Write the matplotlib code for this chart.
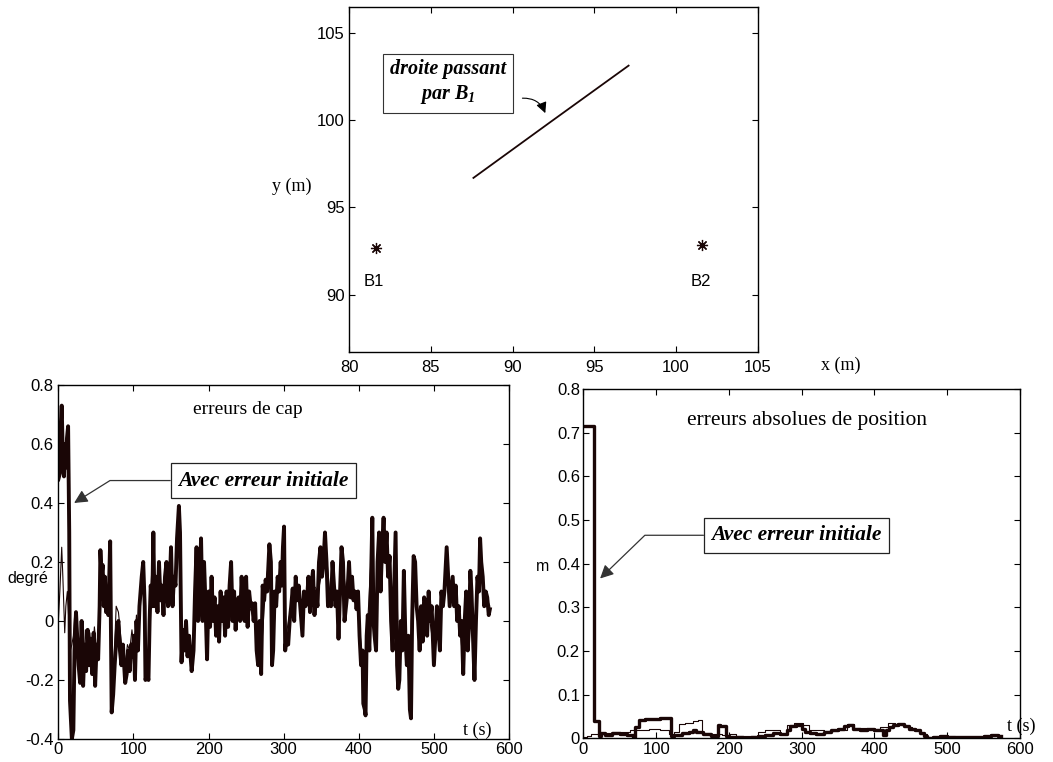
import matplotlib
matplotlib.use('Agg')
import matplotlib.pyplot as plt

plt.rcParams['font.family'] = 'Liberation Sans'
plt.rcParams['mathtext.fontset'] = 'custom'
plt.rcParams['mathtext.rm'] = 'Liberation Serif:bold:italic'
plt.rcParams['mathtext.bf'] = 'Liberation Serif:bold:italic'
plt.rcParams['mathtext.it'] = 'Liberation Serif:bold:italic'

SERIF = 'Liberation Serif'
INK = '#1a0606'

# --- top panel: beacons and the line through B1
beacon_x = [81.63, 101.61]
beacon_y = [92.67, 92.83]
beacon_names = ['B1', 'B2']
line_x = [87.6, 92.3, 97.1]
line_y = [96.7, 99.9, 103.15]

# --- heading error (deg), with initial error (thick)
cap_t = [0, 2, 3, 4.5, 6, 7.5, 9, 10, 11.5, 13,
         14.5, 15.5, 17, 18, 20, 21.5, 23.5, 25, 27, 29,
         31, 33, 35, 37, 39, 41, 43, 45, 47, 49,
         51, 53, 55, 56, 57.5, 59, 60.5, 62, 63.5, 65,
         66.5, 69, 71, 73, 75, 78, 80, 82, 84, 86,
         89, 91, 93, 95, 97, 99, 100.5, 102, 104, 106,
         108, 111, 113, 115, 116, 118, 120, 121.5, 123, 125,
         126.5, 128, 130, 132, 134, 136, 138, 140, 142, 144,
         146, 148, 150, 152, 154, 156, 158, 160.5, 162, 164,
         166, 168, 170, 172, 174, 177.5, 180, 182, 184, 186,
         188, 190, 192, 194, 196, 198, 200, 202, 204, 206,
         208, 210, 212, 214, 216, 218, 220, 222, 224, 226,
         228, 230, 232, 234, 236, 238, 240, 242, 244, 246,
         248, 250, 252, 254, 256, 258, 260, 262, 264, 266,
         268, 270, 272, 274, 276, 278, 281, 283, 284.5, 286,
         288, 290, 292, 294, 296, 297.5, 299, 300.5, 302, 304,
         306, 308, 310, 312, 314, 316, 318, 320, 322, 325,
         327, 329, 331, 333, 335, 337, 339, 341, 343, 345,
         347, 349, 351, 353, 355, 357, 359, 361, 363, 365,
         367, 369, 371, 373, 375, 377, 379, 381, 383, 385,
         387, 389, 391, 393, 395, 397, 399, 401, 403, 405,
         406, 408, 409, 410.5, 412, 414, 416, 418, 419.5, 421,
         423, 425, 427, 429, 431, 433, 435, 437, 439, 441,
         443, 445, 447, 449, 451, 452.5, 454, 456, 458, 460,
         462, 464, 466, 468, 469.5, 471, 473, 475, 477, 479,
         481, 483, 485, 487, 489, 491, 493, 495, 497, 500,
         502, 504, 506, 508, 510, 512, 514, 517, 519, 521,
         523, 525, 527, 529, 531, 533, 535, 537, 539, 541,
         543, 545, 547, 548.5, 550, 552, 554, 556, 558, 560,
         561.5, 563, 565, 567, 569, 571, 573, 574.5]
cap_init = [0.48, 0.50, 0.65, 0.73, 0.55, 0.49, 0.60, 0.52, 0.62, 0.66,
            0.30, -0.27, -0.35, -0.40, -0.37, -0.10, 0.03, -0.05, -0.15, -0.21,
            0.0, -0.22, -0.08, -0.17, -0.03, -0.15, -0.06, -0.18, -0.04, -0.22,
            -0.08, -0.13, 0.05, 0.24, 0.15, 0.19, 0.05, 0.15, 0.03, 0.08,
            0.02, 0.27, -0.31, -0.25, -0.15, -0.03, 0.0, -0.10, -0.15, -0.08,
            -0.21, -0.18, -0.10, -0.17, -0.08, -0.12, -0.05, -0.20, 0.0, -0.10,
            0.05, 0.15, 0.20, 0.05, -0.20, -0.18, -0.20, 0.0, 0.12, 0.05,
            0.30, 0.05, 0.15, 0.03, 0.20, 0.07, 0.12, 0.02, 0.15, 0.20,
            0.05, 0.10, 0.25, 0.05, 0.15, 0.12, 0.28, 0.39, 0.30, -0.14,
            -0.03, -0.10, 0.0, -0.12, -0.05, -0.17, -0.10, 0.10, 0.25, 0.0,
            0.10, 0.28, 0.0, 0.20, 0.05, -0.13, 0.10, -0.02, 0.15, 0.0,
            0.08, -0.05, 0.05, -0.07, 0.10, 0.0, 0.08, -0.05, 0.10, -0.02,
            0.12, 0.20, 0.0, 0.10, -0.03, 0.05, 0.08, 0.0, 0.15, 0.03,
            0.0, 0.15, -0.02, 0.10, 0.05, 0.06, 0.0, 0.06, -0.10, -0.15,
            0.0, -0.18, 0.12, 0.07, 0.14, 0.10, 0.26, 0.20, -0.15, -0.10,
            0.10, 0.05, 0.15, 0.10, 0.20, 0.12, 0.25, 0.32, -0.10, -0.05,
            -0.08, 0.0, 0.05, 0.11, 0.0, 0.15, 0.07, 0.12, 0.05, -0.05,
            0.10, 0.05, 0.07, 0.15, 0.03, 0.12, 0.17, 0.02, 0.10, 0.05,
            0.20, 0.25, 0.15, 0.20, 0.30, 0.20, 0.05, 0.07, 0.05, 0.20,
            0.12, 0.05, 0.10, -0.06, 0.10, 0.25, 0.20, 0.0, 0.05, 0.10,
            0.20, 0.08, 0.15, 0.07, 0.10, 0.04, 0.10, -0.05, -0.15, -0.10,
            -0.28, -0.30, -0.32, -0.05, 0.02, -0.10, 0.10, 0.35, 0.0, -0.05,
            -0.10, 0.20, 0.30, 0.10, 0.25, 0.35, 0.20, 0.30, 0.15, 0.22,
            0.0, -0.10, 0.10, 0.30, -0.15, -0.23, -0.20, 0.0, -0.10, 0.17,
            -0.05, -0.15, -0.05, -0.30, -0.33, 0.0, 0.22, 0.20, 0.05, 0.0,
            -0.10, 0.05, -0.07, 0.08, 0.06, -0.05, 0.10, 0.0, 0.05, -0.15,
            -0.05, 0.05, -0.03, -0.10, 0.10, 0.05, 0.10, 0.25, 0.15, 0.05,
            0.10, 0.15, 0.05, 0.12, 0.0, 0.05, -0.05, 0.0, -0.18, 0.0,
            0.10, -0.10, 0.0, 0.17, 0.10, -0.05, -0.20, 0.0, 0.15, 0.10,
            0.28, 0.20, 0.15, 0.05, 0.10, 0.08, 0.02, 0.04]

# heading error without initial error (thin)
cap_t2 = [0, 2, 4.5, 6, 8.5, 10, 12, 14, 16, 18,
          20, 22, 24, 27, 30, 33, 36, 39, 42, 45,
          48, 51, 54, 56, 59, 62, 65, 69, 71, 74,
          77, 80, 83, 86, 89, 92, 95, 98, 101, 104,
          107, 110, 113, 116, 119, 122, 126, 129, 132, 135,
          138, 141, 144, 147, 150, 153, 156, 160, 163, 166,
          170, 174, 178, 182, 185, 190, 195, 198, 204, 210,
          216, 222, 228, 234, 240, 246, 252, 258, 264, 270,
          276, 281, 285, 290, 296, 300, 303, 310, 316, 322,
          328, 334, 340, 346, 352, 356, 362, 368, 374, 378,
          384, 390, 396, 402, 408, 412, 418, 422, 428, 434,
          440, 446, 450, 453, 458, 462, 469, 473, 480, 486,
          492, 500, 506, 512, 517, 522, 528, 534, 539, 544,
          548, 554, 558, 562, 566, 570, 574.5]
cap_noinit = [0.0, 0.10, 0.25, 0.15, -0.04, 0.05, 0.10, 0.0, -0.10, -0.08,
              -0.05, 0.03, -0.05, -0.12, -0.05, -0.18, -0.03, -0.12, -0.04, -0.15,
              -0.02, -0.10, -0.05, 0.22, 0.17, 0.12, 0.05, 0.22, -0.25, -0.15,
              0.05, 0.03, -0.05, -0.12, -0.15, -0.08, -0.10, -0.03, -0.10, 0.02,
              -0.05, 0.12, 0.18, -0.15, -0.15, 0.05, 0.25, 0.10, 0.08, 0.15,
              0.10, 0.05, 0.18, 0.08, 0.20, 0.10, 0.15, 0.32, 0.0, -0.05,
              -0.02, -0.08, -0.12, 0.05, 0.20, 0.22, 0.10, -0.08, 0.12, 0.0,
              0.08, 0.0, 0.10, 0.08, 0.06, 0.05, 0.02, 0.05, -0.05, -0.12,
              0.12, 0.22, -0.10, 0.08, 0.15, 0.28, -0.05, 0.05, 0.12, 0.07,
              0.08, 0.10, 0.12, 0.10, 0.18, 0.25, 0.08, 0.10, 0.0, 0.20,
              0.08, 0.12, 0.08, -0.05, -0.25, 0.0, 0.30, -0.05, 0.25, 0.30,
              0.18, 0.0, 0.25, -0.18, -0.05, 0.0, -0.28, 0.18, 0.0, 0.0,
              0.05, -0.10, 0.0, 0.06, 0.20, 0.08, 0.10, 0.0, -0.15, 0.0,
              0.15, -0.15, 0.12, 0.25, 0.12, 0.08, 0.05]

# --- absolute position error (m)
pos_t = [0, 14.5, 21, 24, 30, 40, 50, 60, 68, 71,
         76, 85, 95, 105, 112, 121, 125, 135, 145, 150,
         155, 165, 175, 185, 188, 196, 200, 210, 220, 230,
         240, 250, 260, 270, 280, 284, 292, 300, 305, 312,
         320, 330, 340, 350, 358, 364, 370, 380, 390, 400,
         410, 412, 416, 420, 426, 432, 440, 448, 456, 463,
         468, 472, 480, 490, 500, 510, 520, 530, 540, 550,
         560, 565, 570, 574]
pos_init = [0.715, 0.04, 0.005, 0.012, 0.008, 0.012, 0.01, 0.008, 0.004, 0.025,
            0.042, 0.044, 0.045, 0.047, 0.046, 0.005, 0.008, 0.012, 0.015, 0.02,
            0.015, 0.01, 0.005, 0.03, 0.028, 0.005, 0.003, 0.002, 0.0, 0.003,
            0.006, 0.008, 0.012, 0.01, 0.018, 0.028, 0.03, 0.022, 0.015, 0.012,
            0.01, 0.015, 0.018, 0.022, 0.028, 0.03, 0.022, 0.02, 0.021, 0.019,
            0.02, 0.008, 0.02, 0.025, 0.03, 0.033, 0.028, 0.022, 0.018, 0.012,
            0.006, 0.0, 0.004, 0.006, 0.003, 0.002, 0.003, 0.004, 0.003, 0.005,
            0.007, 0.008, 0.006, 0.005]
pos_t2 = [0, 5, 10, 25, 40, 55, 64, 75, 90, 105,
          118, 125, 132, 140, 150, 158, 163, 175, 190, 200,
          210, 225, 240, 250, 261, 270, 280, 290, 302, 310,
          330, 350, 362, 372, 390, 408, 418, 428, 440, 452,
          463, 472, 490, 510, 530, 550, 565, 574]
pos_noinit = [0.002, 0.006, 0.01, 0.012, 0.014, 0.015, 0.018, 0.02, 0.022, 0.02,
              0.01, 0.015, 0.033, 0.035, 0.04, 0.043, 0.012, 0.01, 0.008, 0.01,
              0.006, 0.005, 0.015, 0.018, 0.02, 0.01, 0.03, 0.036, 0.03, 0.018,
              0.016, 0.02, 0.033, 0.024, 0.022, 0.025, 0.035, 0.032, 0.026, 0.02,
              0.01, 0.002, 0.005, 0.004, 0.004, 0.006, 0.008, 0.006]


def style_axes(ax, xpad, ypad):
    ax.tick_params(direction='in', top=True, right=True, length=4,
                   width=0.8, labelsize=12, colors='black')
    ax.tick_params(axis='x', pad=xpad)
    ax.tick_params(axis='y', pad=ypad)
    for s in ax.spines.values():
        s.set_linewidth(1.0)
        s.set_color('black')


fig = plt.figure(figsize=(10.53, 7.62), dpi=100)

# top panel
ax0 = fig.add_axes([0.3317, 0.5381, 0.3878, 0.4523])
ax0.plot(line_x, line_y, color=INK, lw=1.3)
ax0.plot(beacon_x, beacon_y, linestyle='none', marker=(8, 2, 0),
         markersize=8, markeredgewidth=0.9, color=INK)
for bx, name in zip(beacon_x, beacon_names):
    ax0.text(bx - 0.1, 90.76, name, ha='center', va='center', fontsize=12)
ax0.set_xlim(80, 105)
ax0.set_ylim(86.7, 106.5)
ax0.set_xticks(range(80, 106, 5))
ax0.set_yticks(range(90, 106, 5))
style_axes(ax0, 6, 3.5)
ax0.text(86.04, 102.18, 'droite passant\npar $B_1$', ha='center', va='center',
         family=SERIF, style='italic', weight='bold', fontsize=14.5,
         linespacing=1.3,
         bbox=dict(boxstyle='square,pad=0.35', fc='white', ec='#333333', lw=0.8))
ax0.annotate('', xy=(92.0, 100.42), xytext=(90.6, 101.28),
             arrowprops=dict(arrowstyle='-|>', color='black', lw=0.8,
                             mutation_scale=16, shrinkA=0, shrinkB=0,
                             connectionstyle='arc3,rad=-0.35'))
fig.text(0.277, 0.755, 'y (m)', family=SERIF, fontsize=13, ha='center', va='center')
fig.text(0.798, 0.52, 'x (m)', family=SERIF, fontsize=13, ha='center', va='center')

# bottom left panel
ax1 = fig.add_axes([0.0554, 0.0302, 0.428, 0.4646])
ax1.plot(cap_t2, cap_noinit, color=INK, lw=0.8)
ax1.plot(cap_t, cap_init, color=INK, lw=2.8)
ax1.set_xlim(0, 600)
ax1.set_ylim(-0.4, 0.8)
ax1.set_xticks(range(0, 601, 100))
ax1.set_yticks([-0.4, -0.2, 0, 0.2, 0.4, 0.6, 0.8])
ax1.set_yticklabels(['-0.4', '-0.2', '0', '0.2', '0.4', '0.6', '0.8'])
style_axes(ax1, 2, 3.5)
ax1.text(252, 0.718, 'erreurs de cap', family=SERIF, fontsize=14,
         ha='center', va='center')
ax1.annotate('Avec erreur initiale', xy=(21, 0.40), xytext=(273, 0.476),
             ha='center', va='center', family=SERIF, style='italic',
             weight='bold', fontsize=15.5,
             bbox=dict(boxstyle='square,pad=0.35', fc='white', ec='#222222', lw=0.9),
             arrowprops=dict(arrowstyle='-|>', color='#333333', lw=0.9,
                             mutation_scale=20, shrinkA=0, shrinkB=0,
                             connectionstyle='angle,angleA=0,angleB=32,rad=0'))
ax1.text(558, -0.37, 't (s)', family=SERIF, fontsize=13, ha='center', va='center')
fig.text(28.3 / 1053, 1 - 578 / 762, 'degré', fontsize=11.5, ha='center', va='center')

# bottom right panel
ax2 = fig.add_axes([0.554, 0.0311, 0.4147, 0.4584])
ax2.plot(pos_t, pos_init, color=INK, lw=2.4, drawstyle='steps-post')
ax2.plot(pos_t2, pos_noinit, color=INK, lw=0.8, drawstyle='steps-post')
ax2.set_xlim(0, 600)
ax2.set_ylim(0, 0.8)
ax2.set_xticks(range(0, 601, 100))
ax2.set_yticks([0, 0.1, 0.2, 0.3, 0.4, 0.5, 0.6, 0.7, 0.8])
ax2.set_yticklabels(['0', '0.1', '0.2', '0.3', '0.4', '0.5', '0.6', '0.7', '0.8'])
style_axes(ax2, 2.5, 2.5)
ax2.text(307, 0.729, 'erreurs absolues de position', family=SERIF,
         fontsize=15.5, ha='center', va='center')
ax2.annotate('Avec erreur initiale', xy=(23, 0.366), xytext=(293, 0.465),
             ha='center', va='center', family=SERIF, style='italic',
             weight='bold', fontsize=15.5,
             bbox=dict(boxstyle='square,pad=0.35', fc='white', ec='#222222', lw=0.9),
             arrowprops=dict(arrowstyle='-|>', color='#333333', lw=0.9,
                             mutation_scale=20, shrinkA=0, shrinkB=0,
                             connectionstyle='angle,angleA=0,angleB=44,rad=0'))
ax2.text(602, 0.0266, 't (s)', family=SERIF, fontsize=13, ha='center', va='center')
fig.text(542.7 / 1053, 1 - 566.7 / 762, 'm', fontsize=11.5, ha='center', va='center')

fig.savefig('out.png', dpi=100)
